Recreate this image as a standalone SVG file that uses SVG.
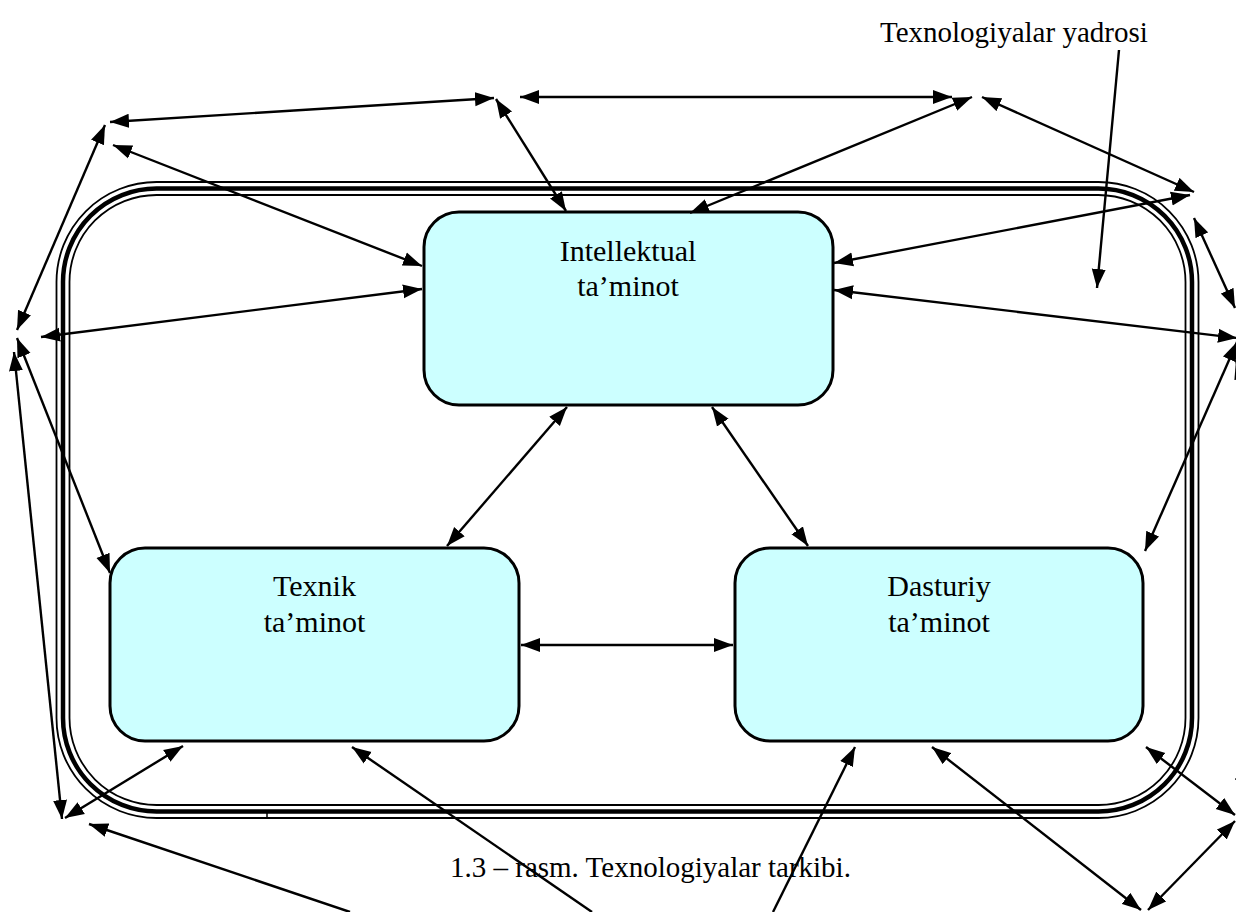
<svg xmlns="http://www.w3.org/2000/svg" width="1236" height="912" viewBox="0 0 1236 912">
<style>
.frame{fill:none;stroke:#000}
.box{fill:#CCFFFF;stroke:#000;stroke-width:3}
.lbl{font-family:"Liberation Serif","Times New Roman",serif;font-size:29px;fill:#000}
.big{font-size:30px}
.c{text-anchor:middle}
.cn line{stroke:#000;stroke-width:2.4}
.bi{marker-start:url(#ah);marker-end:url(#ah)}
.end{marker-end:url(#ah)}
.start{marker-start:url(#ah)}
</style>
<defs>
<marker id="ah" markerUnits="userSpaceOnUse" markerWidth="20" markerHeight="15" refX="19" refY="7.5" orient="auto-start-reverse">
<path d="M0,0.5 L19,7.5 L0,14.5 z" fill="#000"/>
</marker>
</defs>
<rect width="1236" height="912" fill="#fff"/>
<g id="core">
<rect class="frame" x="56.5" y="182" width="1142" height="636" rx="100" stroke-width="1.8"/>
<rect class="frame" x="63" y="188.5" width="1129" height="623" rx="93.5" stroke-width="4.5"/>
<rect class="frame" x="69.5" y="195" width="1116" height="610" rx="87" stroke-width="1.8"/>
<line x1="267" y1="812" x2="267" y2="818" stroke="#000" stroke-width="1.5"/>
</g>
<g id="intellektual">
<rect class="box" x="424" y="212" width="409" height="193" rx="35"/>
<text class="lbl big c" x="628" y="261">Intellektual</text>
<text class="lbl big c" x="628" y="296">ta’minot</text>
</g>
<g id="texnik">
<rect class="box" x="110" y="548" width="409" height="193" rx="35"/>
<text class="lbl big c" x="314.5" y="596">Texnik</text>
<text class="lbl big c" x="314.5" y="632">ta’minot</text>
</g>
<g id="dasturiy">
<rect class="box" x="735" y="548" width="408" height="193" rx="35"/>
<text class="lbl big c" x="939" y="596">Dasturiy</text>
<text class="lbl big c" x="939" y="632">ta’minot</text>
</g>
<g id="label">
<text class="lbl" x="880" y="42">Texnologiyalar yadrosi</text>
</g>
<g id="caption">
<text class="lbl" x="450" y="877">1.3 – rasm. Texnologiyalar tarkibi.</text>
</g>
<g id="connectors" class="cn">
<line class="bi" x1="110" y1="122" x2="494" y2="98"/>
<line class="bi" x1="520" y1="97" x2="952" y2="97"/>
<line class="bi" x1="105" y1="125" x2="17" y2="330"/>
<line class="bi" x1="113" y1="145" x2="422" y2="266"/>
<line class="bi" x1="41" y1="337" x2="422" y2="289"/>
<line class="bi" x1="496" y1="99" x2="566" y2="211"/>
<line class="bi" x1="972" y1="97" x2="690" y2="213"/>
<line class="bi" x1="982" y1="97" x2="1194" y2="192"/>
<line class="bi" x1="834" y1="263" x2="1190" y2="195"/>
<line class="bi" x1="834" y1="290" x2="1237" y2="338"/>
<line class="bi" x1="1194" y1="218" x2="1235" y2="308"/>
<line class="bi" x1="1237" y1="342" x2="1145" y2="551"/>
<line class="end" x1="1250" y1="410" x2="1236" y2="360"/>
<line class="end" x1="1119" y1="50" x2="1097" y2="288"/>
<line class="bi" x1="567" y1="407" x2="447" y2="546"/>
<line class="bi" x1="712" y1="407" x2="808" y2="546"/>
<line class="bi" x1="521" y1="645" x2="733" y2="645"/>
<line class="bi" x1="17" y1="338" x2="110" y2="573"/>
<line class="bi" x1="14" y1="352" x2="62" y2="819"/>
<line class="bi" x1="65" y1="818" x2="183" y2="746"/>
<line class="start" x1="89" y1="824" x2="350" y2="912"/>
<line class="start" x1="352" y1="747" x2="592" y2="912"/>
<line class="start" x1="855" y1="747" x2="773" y2="912"/>
<line class="bi" x1="932" y1="747" x2="1141" y2="910"/>
<line class="bi" x1="1146" y1="747" x2="1235" y2="815"/>
<line class="bi" x1="1235" y1="821" x2="1148" y2="910"/>
<line class="end" x1="1258" y1="735" x2="1236" y2="780"/>
</g>
</svg>
